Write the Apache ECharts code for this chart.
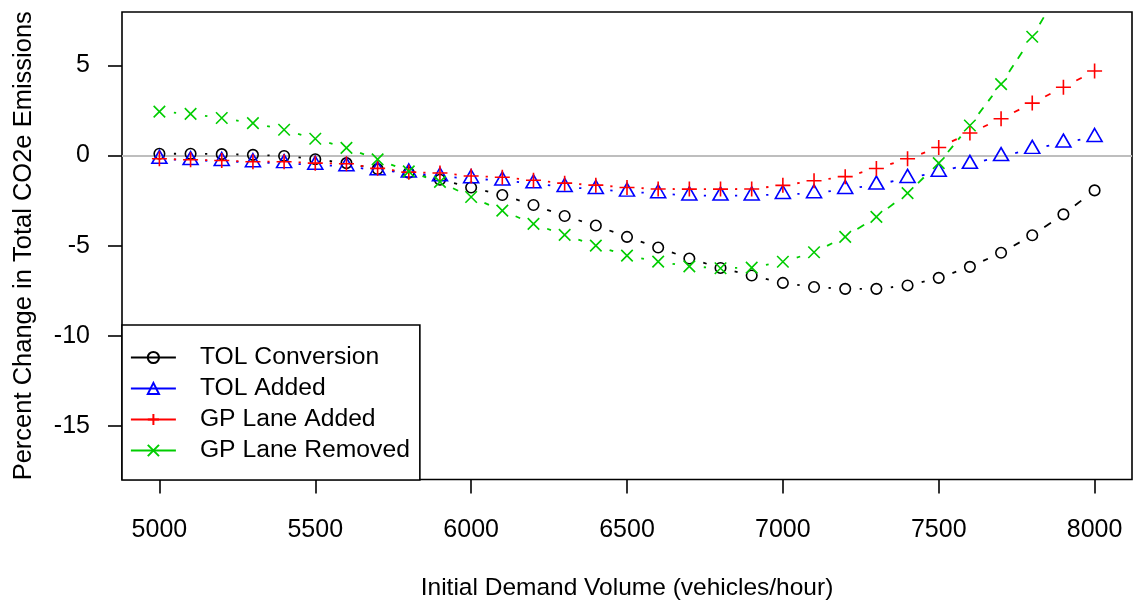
<!DOCTYPE html>
<html>
<head>
<meta charset="utf-8">
<script src="https://cdn.jsdelivr.net/npm/echarts@6/dist/echarts.min.js"></script>
<style>
  html, body { margin: 0; padding: 0; background: #fff; }
  #chart { width: 1139px; height: 605px; }
</style>
</head>
<body>
<div id="chart"></div>
<script>
// Initial demand volume (vehicles/hour)
const demand = [5000, 5100, 5200, 5300, 5400, 5500, 5600, 5700, 5800, 5900, 6000,
                6100, 6200, 6300, 6400, 6500, 6600, 6700, 6800, 6900, 7000,
                7100, 7200, 7300, 7400, 7500, 7600, 7700, 7800, 7900, 8000];

// Percent change in total CO2e emissions for each scenario
const tolConversion = [0.10, 0.10, 0.08, 0.04, -0.02, -0.20, -0.42, -0.75, -0.95, -1.34, -1.77,
                       -2.19, -2.74, -3.35, -3.88, -4.51, -5.10, -5.71, -6.23, -6.65, -7.06,
                       -7.29, -7.39, -7.39, -7.20, -6.78, -6.17, -5.39, -4.42, -3.26, -1.93];
const tolAdded = [-0.19, -0.26, -0.31, -0.38, -0.43, -0.52, -0.60, -0.82, -0.95, -1.16, -1.27,
                  -1.39, -1.55, -1.75, -1.86, -2.01, -2.10, -2.22, -2.23, -2.22, -2.14,
                  -2.10, -1.86, -1.62, -1.25, -0.91, -0.47, -0.04, 0.36, 0.71, 1.02];
const gpLaneAdded = [-0.18, -0.23, -0.27, -0.34, -0.34, -0.42, -0.45, -0.71, -0.92, -0.97, -1.13,
                     -1.20, -1.37, -1.53, -1.64, -1.77, -1.85, -1.86, -1.86, -1.85, -1.65,
                     -1.40, -1.17, -0.72, -0.18, 0.45, 1.25, 2.04, 2.91, 3.79, 4.69];
const gpLaneRemoved = [2.44, 2.31, 2.08, 1.80, 1.43, 0.93, 0.43, -0.21, -0.88, -1.46, -2.30,
                       -3.05, -3.79, -4.40, -4.99, -5.55, -5.88, -6.14, -6.25, -6.21, -5.89,
                       -5.36, -4.51, -3.40, -2.08, -0.42, 1.67, 3.96, 6.59, 9.50, 12.60];

const xTicks = [5000, 5500, 6000, 6500, 7000, 7500, 8000];
const yTicks = [-15, -10, -5, 0, 5];

const FONT = 'Liberation Sans, Arial, Helvetica, sans-serif';
const FONT_SIZE = 25;
const GAP = 14.5;        // blank space left around each marker (pixels)
const LINE_W = 1.8;

const seriesDefs = [
  { name: 'TOL Conversion', values: tolConversion, color: '#000000',
    symbol: 'circle', size: 10.5, offset: [0, 0] },
  { name: 'TOL Added', values: tolAdded, color: '#0000ff',
    symbol: 'triangle', size: [15, 13], offset: [0, -2.2] },
  { name: 'GP Lane Added', values: gpLaneAdded, color: '#ff0000',
    symbol: 'path://M0,5L10,5M5,0L5,10', size: 15, offset: [0, 0] },
  { name: 'GP Lane Removed', values: gpLaneRemoved, color: '#00cd00',
    symbol: 'path://M0,0L10,10M10,0L0,10', size: 11.5, offset: [0, 0] }
];

// Dashed connecting segments that stop short of the markers at both ends
function gappedSegment(color) {
  return function (params, api) {
    const a = api.coord([api.value(0), api.value(1)]);
    const b = api.coord([api.value(2), api.value(3)]);
    const dx = b[0] - a[0], dy = b[1] - a[1];
    const len = Math.hypot(dx, dy);
    if (len <= 2 * GAP) return null;
    const ux = dx / len, uy = dy / len;
    return {
      type: 'line',
      shape: { x1: a[0] + ux * GAP, y1: a[1] + uy * GAP, x2: b[0] - ux * GAP, y2: b[1] - uy * GAP },
      style: { stroke: color, lineWidth: LINE_W, lineDash: [8, 8], fill: null }
    };
  };
}

const series = [];
seriesDefs.forEach(function (d, k) {
  const segs = demand.slice(1).map(function (xv, i) {
    return [demand[i], d.values[i], xv, d.values[i + 1]];
  });
  series.push({
    name: d.name + ' segments',
    type: 'custom',
    clip: true,
    silent: true,
    encode: { x: [0, 2], y: [1, 3] },
    data: segs,
    renderItem: gappedSegment(d.color),
    z: 3
  });
  const line = {
    name: d.name,
    type: 'line',
    data: demand.map(function (xv, i) { return [xv, d.values[i]]; }),
    symbol: d.symbol,
    symbolSize: d.size,
    symbolOffset: d.offset,
    showSymbol: true,
    showAllSymbol: true,
    clip: true,
    lineStyle: { color: d.color, width: 0, opacity: 0 },
    itemStyle: { color: 'rgba(0,0,0,0)', borderColor: d.color, borderWidth: 1.6 },
    emphasis: { disabled: true },
    z: 4
  };
  if (k === 0) {
    line.markLine = {
      silent: true,
      symbol: 'none',
      label: { show: false },
      lineStyle: { color: '#bebebe', width: 2, type: 'solid' },
      emphasis: { disabled: true },
      data: [{ yAxis: 0 }],
      z: 1
    };
  }
  series.push(line);
});

const plainNumber = function (v) { return String(v); };

const chart = echarts.init(document.getElementById('chart'), null, { renderer: 'canvas' });
chart.setOption({
  animation: false,
  backgroundColor: '#ffffff',
  textStyle: { fontFamily: FONT },
  grid: {
    left: 122, right: 7, top: 12, bottom: 125.5,
    show: true, borderColor: '#000', borderWidth: 1.6,
    containLabel: false, outerBoundsMode: 'none'
  },
  legend: {
    data: seriesDefs.map(function (d) { return d.name; }),
    orient: 'vertical',
    left: 122, top: 325,
    padding: [20, 10, 17, 8],
    itemWidth: 45, itemHeight: 14, itemGap: 6,
    backgroundColor: '#ffffff',
    borderColor: '#000', borderWidth: 1.6, borderRadius: 0,
    selectedMode: false,
    lineStyle: { width: LINE_W, opacity: 1, type: 'solid' },
    textStyle: { fontFamily: FONT, fontSize: 24.7, color: '#000', padding: [0, 0, 0, 19] }
  },
  xAxis: {
    type: 'value',
    min: 4880, max: 8120,
    name: 'Initial Demand Volume (vehicles/hour)',
    nameLocation: 'middle', nameGap: 96,
    nameTextStyle: { fontFamily: FONT, fontSize: 24.5, color: '#000' },
    axisLine: { show: false, onZero: false },
    axisTick: { show: true, customValues: xTicks, length: 14, lineStyle: { color: '#000', width: 1.6 } },
    axisLabel: { customValues: xTicks, formatter: plainNumber, margin: 38,
                 fontFamily: FONT, fontSize: FONT_SIZE, color: '#000' },
    splitLine: { show: false }
  },
  yAxis: {
    type: 'value',
    min: -17.96, max: 7.96,
    name: 'Percent Change in Total CO2e Emissions',
    nameLocation: 'middle', nameGap: 85,
    nameTextStyle: { fontFamily: FONT, fontSize: 25.5, color: '#000' },
    axisLine: { show: false, onZero: false },
    axisTick: { show: true, customValues: yTicks, length: 14, lineStyle: { color: '#000', width: 1.6 } },
    axisLabel: { customValues: yTicks, formatter: plainNumber, margin: 32,
                 fontFamily: FONT, fontSize: FONT_SIZE, color: '#000' },
    splitLine: { show: false }
  },
  series: series
});
</script>
</body>
</html>
